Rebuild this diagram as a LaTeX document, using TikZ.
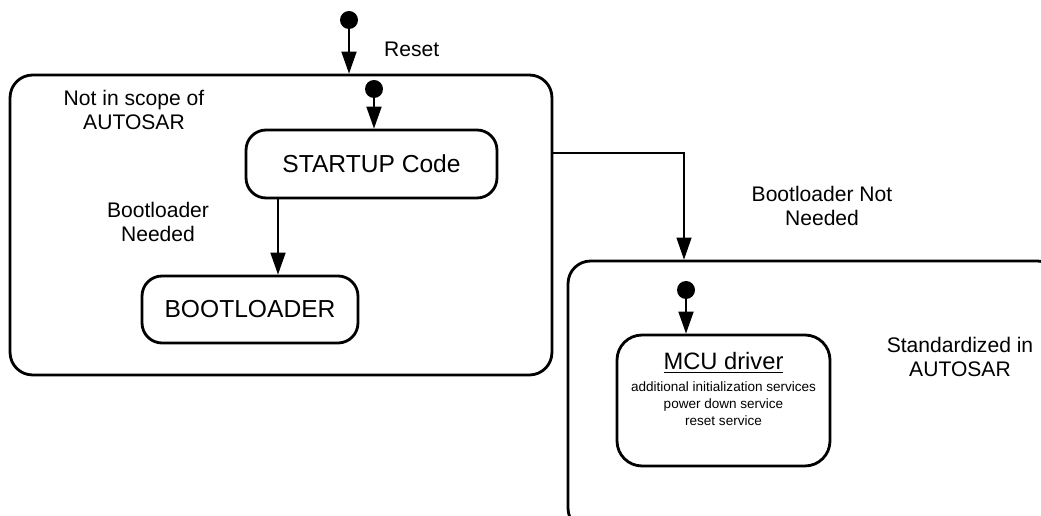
\documentclass[tikz,border=0pt]{standalone}
\usepackage{fontspec}
\setmainfont{Liberation Sans}
\usetikzlibrary{arrows.meta,calc}

\tikzset{
  region/.style   = {draw, line width=1.6pt, rounded corners=0.45cm, inner sep=0pt},
  statebox/.style = {draw, line width=1.6pt, rounded corners=0.4cm, inner sep=0pt,
                     font=\fontsize{14}{16}\selectfont},
  initial/.style  = {circle, fill=black, minimum size=0.36cm, inner sep=0pt},
  trans/.style    = {line width=1pt, -{Triangle[length=0.44cm,width=0.3cm]}},
  note/.style     = {align=center, font=\fontsize{12}{13.6}\selectfont}
}

\begin{document}
\begin{tikzpicture}[x=0.02cm, y=-0.02cm]
            \useasboundingbox (0,0) rectangle (1041,516);
            \clip (0,0) rectangle (1041,516);

            % the two regions
            \node[region, minimum width=10.84cm, minimum height=6.0cm] (notaut) at (281,225) {};
            \node[region, minimum width=9.84cm, minimum height=5.4cm] (stdaut) at (814,396) {};

            % states
            \node[statebox, minimum width=5.02cm, minimum height=1.36cm] (startup) at (371.5,164) {STARTUP Code};
            \node[statebox, minimum width=4.32cm, minimum height=1.34cm] (boot) at (250,309.5) {BOOTLOADER};
            \node[statebox, rounded corners=0.5cm, minimum width=4.26cm, minimum height=2.62cm] (mcu) at (723.5,400.5) {};
            \node[align=center, inner sep=0pt, font=\fontsize{7.7}{9.6}\selectfont] (mcutext) at (723.5,389)
                {{\fontsize{13.5}{16}\selectfont\underline{MCU driver}}\\[3pt]
                 additional initialization services\\
                 power down service\\reset service};

            % initial pseudo states
            \node[initial] (init) at (349,20) {};
            \node[initial] (initL) at (374,89) {};
            \node[initial] (initR) at (686,290) {};

            % transitions
            \coordinate (bootin) at (278,0);
            \coordinate (turn) at (684,153);
            \draw[trans] (init) -- (init |- notaut.north);
            \draw[trans] (initL) -- (initL |- startup.north);
            \draw[trans] (initR) -- (initR |- mcu.north);
            \draw[trans] (bootin |- startup.south) -- (bootin |- boot.north);
            \draw[trans, line width=0.6pt] (turn -| notaut.east) -- (turn) -- (turn |- stdaut.north);

            % labels
            \node[note, anchor=west] (lreset) at (378,49) {Reset};
            \node[note] (lscope) at (134,110) {Not in scope of\\AUTOSAR};
            \node[note] (lneed) at (158,222) {Bootloader\\Needed};
            \node[note] (lnot) at (822,206) {Bootloader Not\\Needed};
            \node[note] (lstd) at (960,357) {Standardized in\\AUTOSAR};
\end{tikzpicture}
\end{document}
